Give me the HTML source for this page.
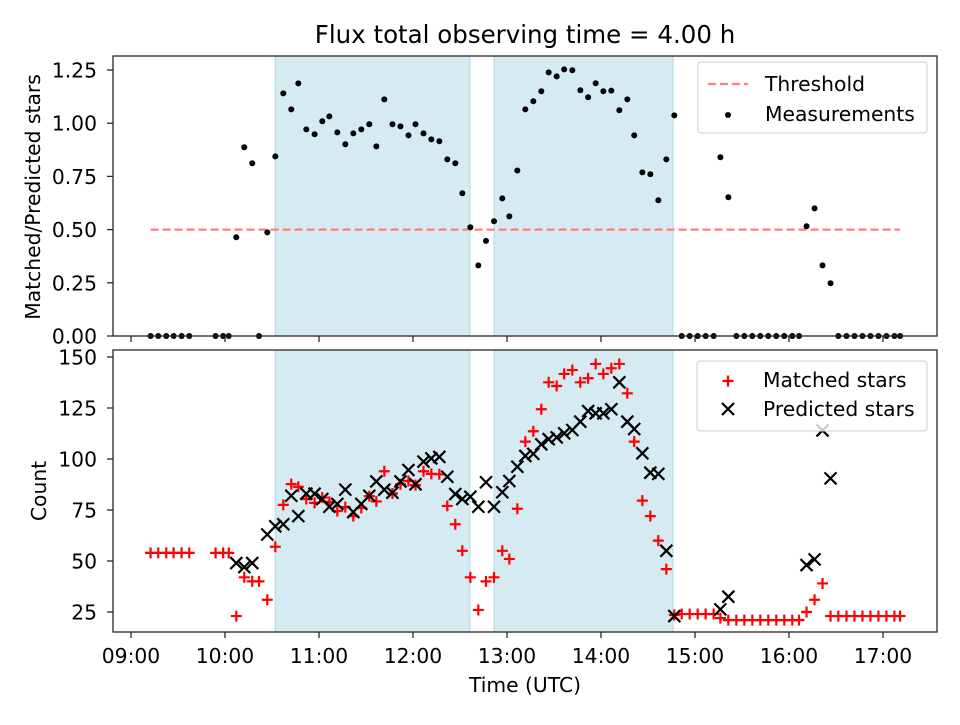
<!DOCTYPE html>
<html><head><meta charset="utf-8"><style>
body{margin:0;background:#fff}
svg text{font-family:"DejaVu Sans","Liberation Sans",sans-serif;fill:#000}
</style></head><body>
<svg id="chart" width="960" height="720" xmlns="http://www.w3.org/2000/svg"></svg>
<script>
// minutes after 09:00 UTC
const times=[12.5,17.4,22.5,27.2,32.3,37.2,54,58.8,62.4,67.2,72.3,77.4,81.7,87,92.1,97.2,102.3,106.8,111.9,117.2,122.1,126.6,131.7,136.8,141.9,147,152.1,156.6,161.7,166.9,172,177.1,181.6,186.7,191.7,196.8,201.9,207,211.5,216.6,221.7,226.6,231.7,237,241.5,246.6,251.7,256.8,261.9,266.6,271.7,276.5,281.7,286.8,291.8,296.6,301.5,306.6,311.7,316.8,321.2,326.4,331.5,336.6,341.7,346.8,351.5,356.6,361.7,366.8,371.9,376.2,381.3,386.4,391.5,396.6,401.7,406.8,411.9,417,422.1,426.4,431.2,436.3,441.4,446.5,451.5,456.7,461.8,466.9,472,477.1,482.2,487.3,490.9];
const ratio=[0,0,0,0,0,0,0,0,0,0.464,0.887,0.812,0,0.487,0.844,1.14,1.065,1.187,0.971,0.948,1.009,1.032,0.957,0.901,0.952,0.971,0.995,0.891,1.112,0.995,0.985,0.943,0.995,0.952,0.924,0.915,0.83,0.812,0.671,0.511,0.332,0.447,0.539,0.647,0.562,0.778,1.065,1.103,1.15,1.239,1.22,1.253,1.249,1.155,1.122,1.188,1.15,1.153,1.061,1.112,0.943,0.769,0.76,0.638,0.83,1.037,0,0,0,0,0,0.84,0.652,0,0,0,0,0,0,0,0,0,0.516,0.6,0.332,0.248,0,0,0,0,0,0,0,0,0];
const matched=[54,54,54,54,54,54,54,54,54,23,42,40,40,31,57,77.5,87.7,86.4,80.4,78.5,81.1,79,74.5,76.4,72,76,81.8,79.2,94,83.1,87.6,89.2,87.2,94,92.7,92.5,77,68,55,42,26,40,42,55,51,75.6,108.5,113.6,124.4,137.6,135.8,141.7,143.6,137.6,139.6,146.6,141.7,144.5,146.6,132.2,108.5,79.6,72,60,46,23.5,24,24,24,24,24,22,21,21,21,21,21,21,21,21,21,21,25,31,39,23,23,23,23,23,23,23,23,23,23];
const predicted=[null,null,null,null,null,null,null,null,null,49,47,49,null,63,67,68,82,72,83,83,80.4,76.6,78,85,74,78,82,89,85,83.5,89,94.6,87.6,98.7,100.3,101,91.3,82.8,80.4,81.5,76.6,88.6,76.6,83.7,89.2,96.2,101.5,102.5,107.2,109.7,110.6,112.6,114.2,118.3,123.5,122.4,122.4,124.4,137.6,118.3,114.7,102.8,93.3,92.7,55,23,null,null,null,null,null,26.3,32.5,null,null,null,null,null,null,null,null,null,48,50.8,114,90.5,null,null,null,null,null,null,null,null,null];
const shadeStart=[92.0,231.7];
const shadeEnd=[216.4,346.0];
const threshold=0.5;
const topTicks=[0,0.25,0.5,0.75,1.0,1.25];
const botTicks=[25,50,75,100,125,150];
const xTickHours=[9,10,11,12,13,14,15,16,17];

const NS="http://www.w3.org/2000/svg";
const svg=document.getElementById('chart');
const L=113,R=937;
const T1=56,B1=336,T2=350,B2=632;
const FS=20.3;
const xs=m=>131+m/60*94;
const y1=v=>336-v*212.8;
const y2=v=>612-(v-25)*2.04;
function mk(tag,attrs,parent){const e=document.createElementNS(NS,tag);for(const k in attrs)e.setAttribute(k,attrs[k]);(parent||svg).appendChild(e);return e;}
function txt(s,attrs,parent){const e=mk('text',attrs,parent);e.textContent=s;return e;}

[[T1,B1],[T2,B2]].forEach(([t,b],pi)=>{
  for(let i=0;i<shadeStart.length;i++){
    const r=mk('rect',{x:xs(shadeStart[i]),y:t,width:xs(shadeEnd[i])-xs(shadeStart[i]),height:b-t,fill:'#d5eaf1',stroke:'#b5d9e5','stroke-width':1});
    
    
  }
});
const th=mk('line',{x1:xs(times[0]),x2:xs(times[times.length-1]),y1:y1(threshold),y2:y1(threshold),stroke:'#ff7f7f','stroke-width':2.2,'stroke-dasharray':'8,4'});


times.forEach((t,i)=>{
  const c=mk('circle',{cx:xs(t),cy:y1(ratio[i]),r:3,fill:'#000'});
  
  
});
times.forEach((t,i)=>{
  const x=xs(t),y=y2(matched[i]);
  const p=mk('path',{d:`M${x-5.5},${y}H${x+5.5}M${x},${y-5.5}V${y+5.5}`,stroke:'#f00','stroke-width':2.2,fill:'none'});
  
  
});
times.forEach((t,i)=>{
  if(predicted[i]==null)return;
  const x=xs(t),y=y2(predicted[i]);
  const p=mk('path',{d:`M${x-6},${y-6}L${x+6},${y+6}M${x-6},${y+6}L${x+6},${y-6}`,stroke:'#000','stroke-width':2.2,fill:'none'});
  
  
});
[[T1,B1],[T2,B2]].forEach(([t,b],pi)=>{
  const f=mk('rect',{x:L,y:t,width:R-L,height:b-t,fill:'none',stroke:'#262626','stroke-width':1.3});
  
  
  xTickHours.forEach(h=>{
    const x=xs((h-9)*60);
    mk('line',{x1:x,x2:x,y1:b,y2:b+6,stroke:'#262626','stroke-width':1.3});
    if(pi){const tl=txt(String(h).padStart(2,'0')+':00',{x:x,y:b+31,'font-size':FS,'text-anchor':'middle'});
      
      }
  });
});
topTicks.forEach(v=>{const y=y1(v);mk('line',{x1:L-6,x2:L,y1:y,y2:y,stroke:'#262626','stroke-width':1.3});
  const tl=txt(v.toFixed(2),{x:L-16,y:y+7.5,'font-size':FS,'text-anchor':'end'});
  
  });
botTicks.forEach(v=>{const y=y2(v);mk('line',{x1:L-6,x2:L,y1:y,y2:y,stroke:'#262626','stroke-width':1.3});
  const tl=txt(String(v),{x:L-16,y:y+7.5,'font-size':FS,'text-anchor':'end'});
  
  });
</script>
<svg style="position:absolute;left:0;top:0" width="960" height="720" xmlns="http://www.w3.org/2000/svg">
<text x="525" y="43" font-size="24.5" text-anchor="middle">Flux total observing time = 4.00 h</text>
<text transform="translate(40,197) rotate(-90)" font-size="20.3" text-anchor="middle">Matched/Predicted stars</text>
<text transform="translate(46,491) rotate(-90)" font-size="20.3" text-anchor="middle">Count</text>
<text x="525" y="692" font-size="20.3" text-anchor="middle">Time (UTC)</text>
<g>
<rect x="698" y="62" width="229" height="71" rx="3" fill="#fff" fill-opacity="0.8" stroke="#ccc"/>
<line x1="708" x2="748" y1="84" y2="84" stroke="#ff7f7f" stroke-width="2.2" stroke-dasharray="8,4"/>
<text x="765" y="91" font-size="20.3">Threshold</text>
<circle cx="728" cy="115" r="3" fill="#000"/>
<text x="765" y="121" font-size="20.3">Measurements</text>
</g>
<g>
<rect x="697" y="361" width="230" height="70" rx="3" fill="#fff" fill-opacity="0.8" stroke="#ccc"/>
<path d="M722.5,381H733.5M728,375.5V386.5" stroke="#f00" stroke-width="2.2"/>
<text x="763" y="387" font-size="20.3">Matched stars</text>
<path d="M722,403L734,415M722,415L734,403" stroke="#000" stroke-width="2.2"/>
<text x="763" y="416" font-size="20.3">Predicted stars</text>
</g>
</svg>
</body></html>
